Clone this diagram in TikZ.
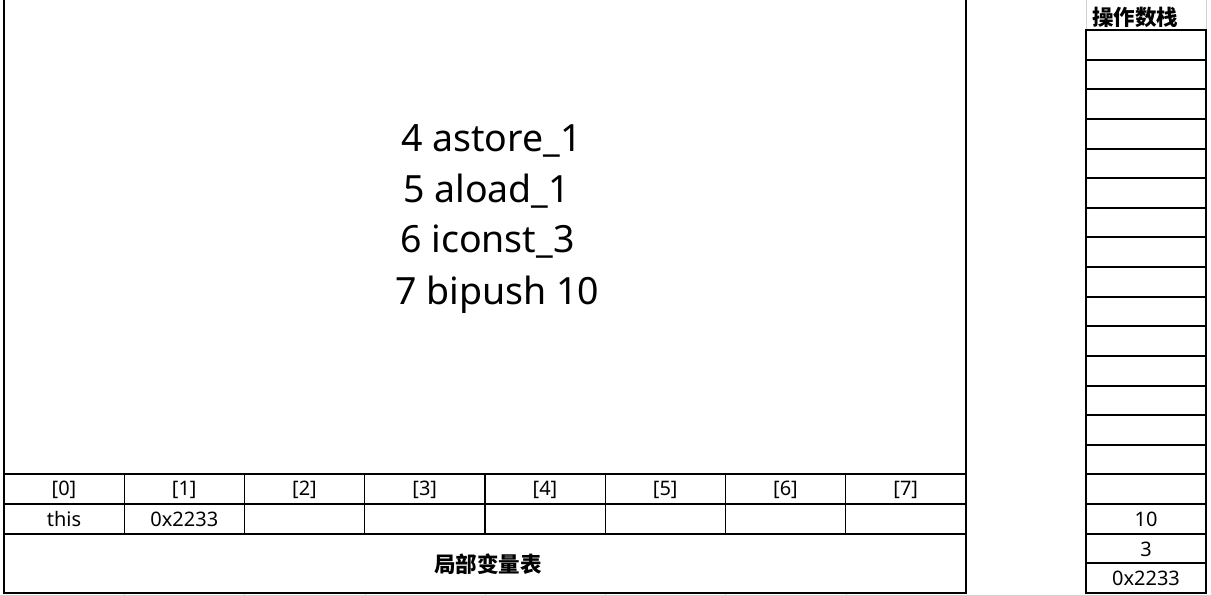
\documentclass[tikz,border=0pt]{standalone}
\usepackage{fontspec}
\setmainfont{Noto Sans}
\newfontfamily\cjk{Noto Sans CJK SC}
\usetikzlibrary{positioning}

\begin{document}
\begin{tikzpicture}[
    x=1pt, y=-1pt,
    frame/.style={draw=black, line width=2pt},
    thin/.style={draw=black, line width=1.3pt},
    sheet/.style={draw=black!18, line width=0.8pt},
    ins/.style={anchor=base west, inner sep=0pt, font=\fontsize{37.5}{45}\selectfont},
    small/.style={inner sep=0pt, font=\fontsize{20}{24}\selectfont},
    title/.style={inner sep=0pt, font=\cjk\bfseries\fontsize{21.5}{26}\selectfont},
  ]
  \useasboundingbox (0,0) rectangle (1211,596);

  % faint sheet grid
  \draw[sheet] (0,595) -- (1211,595);
  \foreach \x in {124.3,244.6,364.9,485.2,605.5,725.8,846.1}
    \draw[sheet] (\x,593) -- (\x,596);
  \draw[sheet] (1086,0) -- (1086,30);
  \draw[sheet] (1206,0) -- (1206,30);

  % local variable table
  \draw[frame] (4,0) -- (4,593) -- (966,593) -- (966,0);
  \draw[frame] (4,474) -- (966,474);
  \draw[thin] (4,504) -- (966,504);
  \draw[frame] (4,534) -- (966,534);
  \foreach \i in {1,...,7}
    \draw[thin] (4+120.25*\i,474) -- (4+120.25*\i,534);
  \foreach \i in {0,...,7}
    \node[small] (idx\i) at (64+120.25*\i,490) {[\i]};
  \node[small] (var0) at (64,519) {this};
  \node[small] (var1) at (184.3,519) {0x2233};
  \node[title] (lvt) at (488,564) {局部变量表};

  % bytecode
  \node[ins] (op4) at (401,152) {4 astore\_1};
  \node[ins] (op5) at (403,203) {5 aload\_1};
  \node[ins] (op6) at (400,253) {6 iconst\_3};
  \node[ins] (op7) at (395,305) {7 bipush 10};

  % operand stack
  \node[title] (ost) at (1135,17) {操作数栈};
  \draw[frame] (1086,30) rectangle (1206,593);
  \foreach \j in {1,...,18}
    \draw[frame] (1086,30+29.63*\j) -- (1206,30+29.63*\j);
  \node[small] (st2) at (1146,519) {10};
  \node[small] (st1) at (1146,549) {3};
  \node[small] (st0) at (1146,578) {0x2233};
\end{tikzpicture}
\end{document}
